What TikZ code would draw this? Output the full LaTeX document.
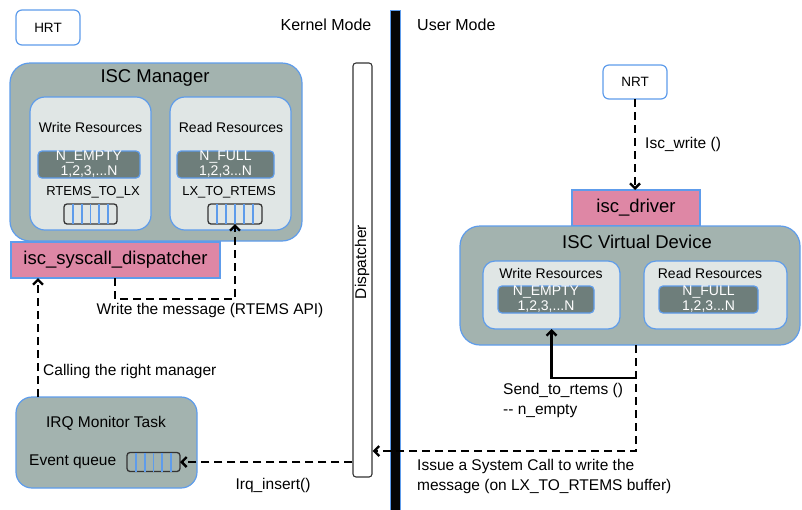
\documentclass[tikz,border=0pt]{standalone}
\usepackage{fontspec}
\setmainfont{Liberation Sans}
\usetikzlibrary{arrows.meta,calc}

\definecolor{edgeblue}{HTML}{5E9CEB}
\definecolor{boxgray}{HTML}{A3B3AF}
\definecolor{boxlight}{HTML}{E0E6E5}
\definecolor{boxdark}{HTML}{6E7E7B}
\definecolor{boxpink}{HTML}{DE87A5}
\definecolor{barblack}{HTML}{050505}

\tikzset{
  fs/.style={font=\fontsize{#1}{#1}\selectfont},
  blk/.style={draw=edgeblue, line width=1.2pt, inner sep=0pt, outer sep=0pt},
  taskbox/.style={blk, fill=white, rounded corners=6pt, fs=13.5},
  group/.style={blk, fill=boxgray, rounded corners=20pt},
  resbox/.style={blk, fill=boxlight, rounded corners=15pt},
  countbox/.style={blk, fill=boxdark, rounded corners=4pt, text=white,
    align=center, font=\fontsize{14}{15}\selectfont},
  pinkbox/.style={blk, fill=boxpink, fs=18.5},
  queuebox/.style={draw=black!80, line width=1.3pt, rounded corners=3pt,
    inner sep=0pt, outer sep=0pt},
  qline/.style={draw=edgeblue, line width=1.9pt},
  lbl/.style={fs=15.5, inner sep=0pt},
  flow/.style={line width=2.8pt, dash pattern=on 8pt off 5pt,
    -{Straight Barb[length=5pt,width=10pt,line width=2.4pt]}},
  solidflow/.style={line width=2.8pt,
    -{Straight Barb[length=5pt,width=10pt,line width=2.4pt]}},
}

\newcommand\queuelines[1]{%
  \foreach \f in {1,...,5}
    \draw[qline] ($(#1.south west)!\f/6!(#1.south east)$) --
                 ($(#1.north west)!\f/6!(#1.north east)$);}

\begin{document}
\begin{tikzpicture}[x=1pt,y=-1pt]
\useasboundingbox (0,0) rectangle (802,509);

% mode separator and titles
\fill[barblack, draw=edgeblue, line width=0.9pt] (390,10) rectangle (400,515);
\node[lbl, fs=16] (kmode) at (326,25) {Kernel Mode};
\node[lbl, fs=16, anchor=west] (umode) at (417,25) {User Mode};

% real-time side
\node[taskbox, minimum width=64pt, minimum height=35pt] (hrt) at (48,27.5) {HRT};

\node[group, minimum width=292pt, minimum height=178pt] (mgr) at (156,152) {};
\node[lbl, fs=18.5] (mgrt) at (155,78) {ISC Manager};

\node[resbox, minimum width=121pt, minimum height=133pt] (mw) at (90.5,163.5) {};
\node[resbox, minimum width=121pt, minimum height=133pt] (mr) at (230.5,163.5) {};
\node[lbl, fs=14] (mwt) at (90.5,127) {Write Resources};
\node[lbl, fs=14] (mrt) at (231,127) {Read Resources};

\node[countbox, minimum width=102pt, minimum height=27pt] (mwc) at (89,164.5)
  {N\_EMPTY\\1,2,3,...N};
\node[countbox, minimum width=97pt, minimum height=27pt] (mrc) at (225.5,164.5)
  {N\_FULL\\1,2,3...N};

\node[lbl, fs=13] (rtl) at (93,192) {RTEMS\_TO\_LX};
\node[lbl, fs=13] (ltr) at (229,192) {LX\_TO\_RTEMS};

\node[queuebox, minimum width=53pt, minimum height=20pt] (q1) at (90.5,214) {};
\node[queuebox, minimum width=54pt, minimum height=20pt] (q2) at (235,214) {};
\queuelines{q1}
\queuelines{q2}

\node[pinkbox, minimum width=209pt, minimum height=36pt] (sd) at (115.5,260)
  {isc\_syscall\_dispatcher};

\node[group, rounded corners=16pt, minimum width=181pt, minimum height=91pt]
  (irq) at (106.5,442.5) {};
\node[lbl] (irqt) at (106,423) {IRQ Monitor Task};
\node[lbl, anchor=west] (evt) at (29,462) {Event queue};
\node[queuebox, minimum width=53pt, minimum height=19pt] (eq) at (153.5,462) {};
\queuelines{eq}

% dispatcher bar
\node[draw=black!80, line width=1.1pt, fill=white, rounded corners=3pt,
  minimum width=19pt, minimum height=414pt, inner sep=0pt] (disp) at (362.5,270) {};
\node[lbl, rotate=90] (dispt) at (362,262) {Dispatcher};

% user side
\node[taskbox, minimum width=64pt, minimum height=34pt] (nrt) at (635,82) {NRT};
\node[pinkbox, minimum width=128pt, minimum height=36pt] (drv) at (636,208)
  {isc\_driver};

\node[group, minimum width=340pt, minimum height=119pt] (vd) at (630,285.5) {};
\node[lbl, fs=18.5] (vdt) at (637,242) {ISC Virtual Device};
\node[resbox, rounded corners=12pt, minimum width=137pt, minimum height=68pt]
  (vw) at (551.5,295) {};
\node[resbox, rounded corners=12pt, minimum width=143pt, minimum height=68pt]
  (vr) at (715.5,295) {};
\node[lbl, fs=14] (vwt) at (551,273) {Write Resources};
\node[lbl, fs=14] (vrt) at (710,273) {Read Resources};
\node[countbox, minimum width=96pt, minimum height=27pt] (vwc) at (546,299.5)
  {N\_EMPTY\\1,2,3,...N};
\node[countbox, minimum width=99pt, minimum height=27pt] (vrc) at (708.5,299.5)
  {N\_FULL\\1,2,3...N};

% connectors
\draw[flow] (nrt.south) -- (drv.north -| nrt.south);
\node[lbl, anchor=west] (wlbl) at (645,144) {Isc\_write ()};

\coordinate (sysx) at (636,0);
\coordinate (syscorner) at (636,451);
\draw[flow] (vd.south -| sysx) -- (syscorner) -- (disp.east |- syscorner);
\node[lbl, anchor=west, align=left, font=\fontsize{15.5}{20}\selectfont]
  (syslbl) at (417,476) {Issue a System Call to write the\\message (on LX\_TO\_RTEMS buffer)};

\coordinate (sendstart) at (636,378);
\draw[solidflow] (sendstart) -| (vw.south);
\node[lbl, anchor=west, align=left, font=\fontsize{15.5}{20}\selectfont]
  (sendlbl) at (503,400) {Send\_to\_rtems ()\\{-}{-} n\_empty};

\draw[flow] (disp.west |- eq.east) -- (eq.east);
\node[lbl] (irqlbl) at (273,485) {Irq\_insert()};

\coordinate (callx) at (38,0);
\draw[flow] (irq.north -| callx) -- (sd.south -| callx);
\node[lbl, anchor=west] (calllbl) at (43,371) {Calling the right manager};

\coordinate (writex) at (115,0);
\draw[flow] (sd.south -| writex) -- ++(0,21) -| (q2.south);
\node[lbl] (writelbl) at (210,310) {Write the message (RTEMS API)};
\end{tikzpicture}
\end{document}
